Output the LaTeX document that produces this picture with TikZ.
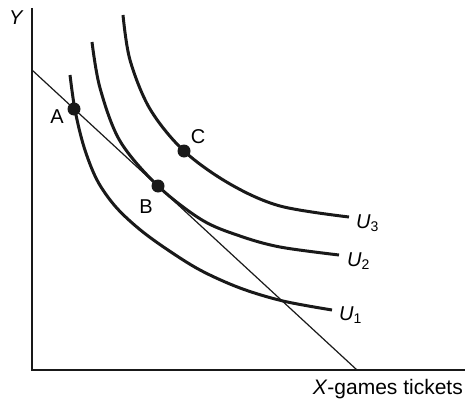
\documentclass[tikz,border=0pt]{standalone}
\usepackage{fontspec}
\setmainfont{Liberation Sans}
\begin{document}
\begin{tikzpicture}[x=1pt,y=-1pt,
  axis/.style={line width=1.3pt,black!90},
  budget/.style={line width=1.2pt,black!90},
  ucurve/.style={line width=3pt,black!90,line cap=butt},
  dot/.style={circle,fill=black!90,inner sep=0pt,minimum size=13pt},
  lab/.style={font=\fontsize{20}{24}\selectfont,inner sep=0pt}]
\useasboundingbox (0,0) rectangle (465,404);
% axes
\coordinate (ytop) at (32,8);
\coordinate (orig) at (32,370);
\coordinate (xend) at (465,370);
\draw[axis] (ytop) -- (orig) -- (xend);
% budget line
\coordinate (b1) at (32,70);
\coordinate (b2) at (357,370);
\draw[budget] (b1) -- (b2);
% indifference curves
\draw[ucurve] plot[smooth,tension=0.55] coordinates {(70,75) (75,110) (84,147) (97,180) (115,206) (138,228) (165,248) (200,270) (240,288) (283,301) (332,310)};
\draw[ucurve] plot[smooth,tension=0.55] coordinates {(92,42) (100,88) (120,141) (158,186) (202,220) (240,236) (280,247) (339,255)};
\draw[ucurve] plot[smooth,tension=0.55] coordinates {(123,15) (130,60) (150,109) (184,151) (230,184) (280,206) (349,217)};
% points
\node[dot] (A) at (74,109) {};
\node[dot] (B) at (158,186) {};
\node[dot] (C) at (184,151) {};
% labels
\node[lab] (lA) at (57,117) {A};
\node[lab] (lB) at (146,207) {B};
\node[lab] (lC) at (198,137) {C};
\node[lab,anchor=base west] (lU3) at (356,228) {\textit{U}\textsubscript{3}};
\node[lab,anchor=base west] (lU2) at (347,266) {\textit{U}\textsubscript{2}};
\node[lab,anchor=base west] (lU1) at (339,320) {\textit{U}\textsubscript{1}};
\node[lab,anchor=base west] (lY) at (9,25) {\textit{Y}};
\node[lab,anchor=base east,font=\fontsize{21}{25}\selectfont] (lX) at (463,394) {\textit{X}-games tickets};
\end{tikzpicture}
\end{document}
